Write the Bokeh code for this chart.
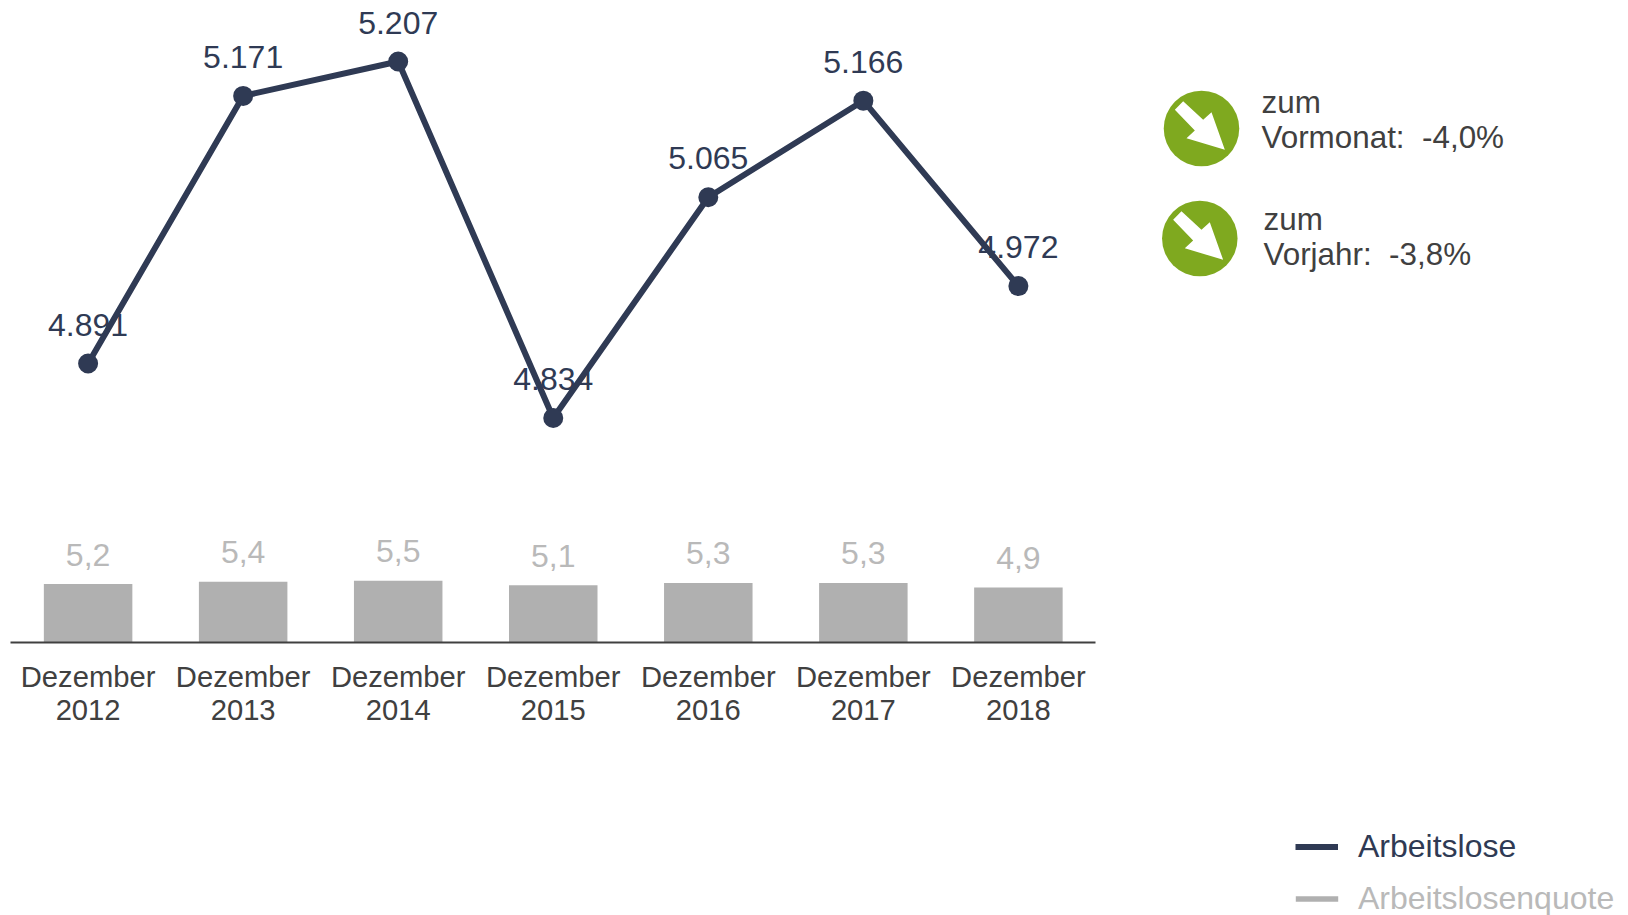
from bokeh.plotting import figure
from bokeh.models import Range1d, LinearAxis, FixedTicker, Legend, LegendItem, ColumnDataSource
from bokeh.core.properties import value
from bokeh.embed import file_html
from bokeh.resources import INLINE

# --- data ---
months = ["Dezember", "Dezember", "Dezember", "Dezember", "Dezember", "Dezember", "Dezember"]
years = ["2012", "2013", "2014", "2015", "2016", "2017", "2018"]
arbeitslose = [4891, 5171, 5207, 4834, 5065, 5166, 4972]
quote = [5.2, 5.4, 5.5, 5.1, 5.3, 5.3, 4.9]
arbeitslose_labels = ["4.891", "5.171", "5.207", "4.834", "5.065", "5.166", "4.972"]
quote_labels = ["5,2", "5,4", "5,5", "5,1", "5,3", "5,3", "4,9"]
side_first = ["zum", "zum"]
side_second = ["Vormonat:\u00a0 -4,0%", "Vorjahr:\u00a0 -3,8%"]

FONT = "Liberation Sans"
NAVY = "#2f3a54"
GREY = "#b0b0b0"
GREY_TXT = "#b9b9b9"
DARK = "#404040"
GREEN = "#7fa91f"

W, H = 1628, 915
X0, STEP = 87.6, 155.05
BASE = 642
PX_PER_PERSON = 0.9558
PX_PER_PCT = 11.25

xr = Range1d(-X0 / STEP, (W - X0) / STEP)
yr = Range1d(5207 - (H - 61) / PX_PER_PERSON, 5207 + 61 / PX_PER_PERSON)
bar_r = Range1d(-(H - BASE) / PX_PER_PCT, BASE / PX_PER_PCT)


def dx(px):
    return xr.start + px / STEP


def dy(py):
    return yr.start + (H - py) / PX_PER_PERSON


p = figure(width=W, height=H, x_range=xr, y_range=yr, output_backend="svg",
           toolbar_location=None, x_axis_location=None, y_axis_location=None,
           min_border=0, outline_line_color=None,
           background_fill_color="white", border_fill_color="white")
p.xgrid.visible = False
p.ygrid.visible = False
p.extra_y_ranges = {"bars": bar_r}

xs = list(range(len(years)))
src = ColumnDataSource(dict(x=xs, a=arbeitslose, q=quote, al=arbeitslose_labels, ql=quote_labels))

bars = p.vbar(x="x", top="q", bottom=0, width=88.5 / STEP, source=src, y_range_name="bars",
              fill_color=GREY, line_color=None)
p.text(x="x", y="q", text="ql", source=src, y_range_name="bars", y_offset=-29.5,
       text_align="center", text_baseline="middle", text_font=value(FONT),
       text_font_size="32px", text_color=GREY_TXT)

line = p.line(x="x", y="a", source=src, line_color=NAVY, line_width=6, line_join="round")
p.scatter(x="x", y="a", source=src, size=20, fill_color=NAVY, line_color=None)
p.text(x="x", y="a", text="al", source=src, y_offset=-39,
       text_align="center", text_baseline="middle", text_font=value(FONT),
       text_font_size="32px", text_color=NAVY)

axis = LinearAxis(ticker=FixedTicker(ticks=xs), bounds=(-0.5, 6.5), fixed_location=dy(BASE),
                  major_label_overrides={i: f"{m}\n{y}" for i, (m, y) in enumerate(zip(months, years))},
                  axis_line_color=DARK, axis_line_width=1.8,
                  major_tick_line_color=None, minor_tick_line_color=None,
                  major_label_text_font=FONT, major_label_text_font_size="29.2px",
                  major_label_text_color=DARK, major_label_standoff=12,
                  major_label_text_line_height=1.05)
p.add_layout(axis, "below")

# indicator badges
ARROW = [(-55, -82), (5, -26), (30, -49), (70, 64), (-45, 29), (-20, 6), (-80, -56)]
for cx, cy, tx, y1, y2, t1, t2 in [
    (1201, 128, 1261, 102, 137, side_first[0], side_second[0]),
    (1199.3, 238, 1263, 219, 254, side_first[1], side_second[1]),
]:
    p.scatter([dx(cx)], [dy(cy)], size=75.5, fill_color=GREEN, line_color=None)
    p.patch([dx(cx + a / 3) for a, _ in ARROW], [dy(cy + b / 3) for _, b in ARROW],
            fill_color="white", line_color=None)
    p.text([dx(tx), dx(tx)], [dy(y1), dy(y2)], text=[t1, t2], text_align="left",
           text_baseline="middle", text_font=value(FONT), text_font_size="31.4px", text_color=DARK)

# legends
for renderer, label, color, lx, gw, standoff, ly in [
    (line, "Arbeitslose", NAVY, 1295, 43, 20, 50),
    (bars, "Arbeitslosenquote", GREY_TXT, 1290, 53, 15, -2),
]:
    leg = Legend(items=[LegendItem(label=label, renderers=[renderer])],
                 location=(lx, ly), orientation="vertical",
                 background_fill_alpha=0, border_line_color=None, padding=0, margin=0,
                 glyph_width=gw, glyph_height=7, label_standoff=standoff, spacing=0,
                 label_text_font=FONT, label_text_font_size="32px", label_text_color=color,
                 label_height=36)
    p.add_layout(leg)

open("out.html", "w").write(file_html(p, INLINE))
